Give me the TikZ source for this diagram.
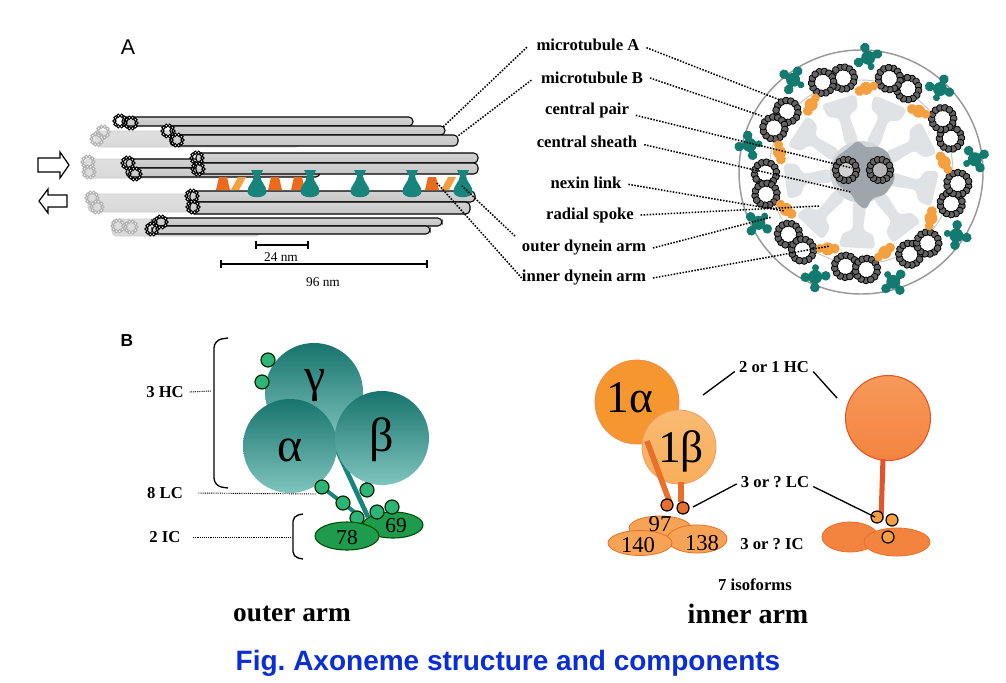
\documentclass[tikz,border=0pt]{standalone}
\usepackage{fontspec}
\setmainfont{Liberation Serif}
\newfontfamily\sansf{Liberation Sans}
\usetikzlibrary{calc}
\definecolor{tealD}{HTML}{17746D}
\definecolor{tealL}{HTML}{80C4BE}
\definecolor{tealA}{HTML}{17857B}
\definecolor{tealX}{HTML}{127A6E}
\definecolor{orgD}{HTML}{EC6A1E}
\definecolor{orgL}{HTML}{F5A040}
\definecolor{orgS}{HTML}{E8702A}
\definecolor{lcg}{HTML}{2DB579}
\definecolor{icg}{HTML}{1E9B4C}
\definecolor{capblue}{HTML}{0A2ED6}
\definecolor{spokec}{HTML}{E0E3E5}
\definecolor{sheathc}{HTML}{9EA6AB}
\definecolor{ia1}{HTML}{F5962F}
\definecolor{ia2}{HTML}{F8AE5A}
\definecolor{iaE}{HTML}{F7A356}
\definecolor{iaRt}{HTML}{F7995A}
\definecolor{iaR}{HTML}{F3843F}
\definecolor{iaRd}{HTML}{E2552A}
\tikzset{
  frod/.style={draw=black,line width=0.8pt,rounded corners=3.2pt,top color=gray!35,middle color=white,bottom color=gray!45},
  brod/.style={draw=gray!40,line width=0.5pt,rounded corners=3.2pt,top color=gray!25,middle color=white,bottom color=gray!30},
  lbead/.style={draw=black,fill=white,line width=0.75pt},
  fbead/.style={draw=gray!60,fill=white,line width=0.75pt},
  xbead/.style={draw=black,fill=gray!65!black!90,line width=0.6pt},
  dotl/.style={line width=1.15pt,dash pattern=on 1.15pt off 1.1pt},
  fdot/.style={line width=0.7pt,dash pattern=on 0.7pt off 0.7pt},
  lbl/.style={font=\bfseries\fontsize{12.5}{14}\selectfont,inner sep=1pt},
  arrowbox/.style={draw=black,line width=0.9pt,fill=white},
  lcc/.style={fill=lcg,draw=black!85!green,line width=0.9pt},
  icc/.style={fill=icg,draw=black!70!green,line width=0.8pt},
  ilc/.style={fill=orgS,draw=black,line width=0.9pt},
}
\newcommand{\lring}[3]{\foreach \k in {0,...,9} \draw[#3] (#1,#2) ++(\k*36:5.5) circle (1.7);}
\newcommand{\xring}[4]{\fill[#3] (#1,#2) circle (#4); \foreach \k in {0,...,13} \draw[xbead] (#1,#2) ++(\k*25.71:#4) circle (3.4);}
\newcommand{\tealcup}[1]{\fill[tealA] (#1-6,170) -- (#1+6,170) -- (#1+3,176) .. controls (#1+4,183) and (#1+10,186) .. (#1+9.5,192) .. controls (#1+8.5,199) and (#1-8.5,199) .. (#1-9.5,192) .. controls (#1-10,186) and (#1-4,183) .. (#1-3,176) -- cycle;}
\newcommand{\orgtrap}[1]{\fill[orgD] (#1-7,190) -- (#1-4,177) -- (#1+4,177) -- (#1+7,190) -- cycle;}
\newcommand{\orgpar}[1]{\fill[orgL] (#1-7,190) -- (#1,177) -- (#1+8,177) -- (#1+1,190) -- cycle;}
\begin{document}
\begin{tikzpicture}[x=0.75pt,y=-0.75pt]
\frenchspacing
\fill[white] (0,0) rectangle (1006,682);
\path[use as bounding box] (0,0) rectangle (1006,682);

% ---------------- Panel A: longitudinal ----------------
\node[font=\sansf\fontsize{16}{18}\selectfont] (labA) at (128,47) {A};

% faded rods
\draw[brod] (95,131) rectangle (300,147);
\draw[brod] (85,159) rectangle (220,178);
\draw[brod] (88,194) rectangle (230,212);
\draw[brod] (112,219) rectangle (260,236);
\lring{97}{139}{fbead}\lring{103}{132}{fbead}
\lring{88}{162}{fbead}\lring{89}{172}{fbead}
\lring{92}{198}{fbead}\lring{97}{207}{fbead}
\lring{118}{226}{fbead}\lring{131}{227}{fbead}

% group 1
\draw[frod] (122,117) rectangle (413,126);
\lring{120}{121}{lbead}\lring{131}{123}{lbead}
\draw[frod] (170,126) rectangle (445,135);
\draw[frod] (170,135) rectangle (458,146);
\lring{168}{131}{lbead}\lring{177}{140}{lbead}
% group 2 (back)
\draw[frod] (126,159) rectangle (320,168);
\draw[frod] (126,168) rectangle (320,177);
\lring{128}{163}{lbead}\lring{135}{174}{lbead}
% group 2 (front)
\draw[frod] (196,153) rectangle (478,163);
\draw[frod] (196,163) rectangle (478,174);
\lring{197}{158}{lbead}\lring{198}{169}{lbead}
% group 3
\draw[frod] (190,191) rectangle (475,202);
\draw[frod] (190,202) rectangle (470,214);
\lring{192}{196}{lbead}\lring{193}{207}{lbead}
% group 4
\draw[frod] (152,218) rectangle (442,226);
\draw[frod] (152,226) rectangle (430,234);
\lring{161}{222}{lbead}\lring{152}{229}{lbead}

% dynein arms
\orgtrap{223}\orgpar{238}\orgtrap{275}\orgtrap{298}\orgtrap{432}\orgpar{448}
\tealcup{257}\tealcup{310}\tealcup{360}\tealcup{412}\tealcup{463}

% sliding arrows
\draw[arrowbox] (38,158) -- (60,158) -- (60,152) -- (69,165) -- (60,178) -- (60,172) -- (38,172) -- cycle;
\draw[arrowbox] (67,195) -- (48,195) -- (48,189) -- (39,201) -- (48,213) -- (48,207) -- (67,207) -- cycle;

% scale bars
\coordinate (s24a) at (256,245); \coordinate (s24b) at (308,245);
\coordinate (s96a) at (221,264); \coordinate (s96b) at (427,264);
\draw[line width=1.1pt] (s24a) -- (s24b);
\draw[line width=1.1pt] ([yshift=3pt]s24a) -- ([yshift=-3pt]s24a);
\draw[line width=1.1pt] ([yshift=3pt]s24b) -- ([yshift=-3pt]s24b);
\draw[line width=1.1pt] (s96a) -- (s96b);
\draw[line width=1.1pt] ([yshift=3pt]s96a) -- ([yshift=-3pt]s96a);
\draw[line width=1.1pt] ([yshift=3pt]s96b) -- ([yshift=-3pt]s96b);
\node[font=\fontsize{10}{12}\selectfont] (t24) at (281,257) {24 nm};
\node[font=\fontsize{10}{12}\selectfont] (t96) at (323,282) {96 nm};

% ---------------- Panel A: cross-section ----------------
\coordinate (xc) at (861,172);
\foreach \t [evaluate=\t as \rr using 90-\t] in {-17,23,63,103,143,183,223,263,303}{
  \begin{scope}[shift={(861,172)},rotate=\rr]
    \fill[spokec,rounded corners=3pt] (62,-16) -- (76,-18) -- (76,18) -- (62,16) -- (58,5) -- (30,7) -- (30,-7) -- (58,-5) -- cycle;
  \end{scope}
}
\fill[sheathc!45] (861,172) circle (31);
\fill[sheathc,rounded corners=3pt] (835,158) -- (850,147) -- (858,140) -- (866,148) -- (878,146) -- (888,152) -- (893,165) -- (895,180) -- (885,195) -- (872,198) -- (866,210) -- (857,204) -- (850,192) -- (838,186) -- (832,172) -- cycle;
\draw[gray!45,line width=0.7pt] (xc) circle (92);
\draw[gray!80,line width=1.1pt] (xc) circle (122);
\xring{846}{170}{gray!35}{10.5}
\xring{880}{170}{gray!55}{10.5}
\foreach \t [evaluate=\t as \rr using 90-\t] in {-17,23,63,103,143,183,223,263,303}{
  \begin{scope}[shift={(861,172)},rotate=\rr]
    \xring{95}{10.5}{white}{11}
    \xring{97}{-10.5}{white}{11}
    \fill[tealX] (108,-38) circle (7) (115,-31) circle (4.8) (116,-45) circle (4.8) (100,-45) circle (4.8) (101,-32) circle (3.5);
    \fill[orgL] (79,-28) circle (6.5) (74,-33) circle (5) (84,-22) circle (4.5);
  \end{scope}
}

% ---------------- labels A ----------------
\node[lbl] (lmtA) at (588,45) {microtubule A};
\node[lbl] (lmtB) at (592,78) {microtubule B};
\node[lbl] (lcp) at (587,110) {central pair};
\node[lbl] (lcs) at (587,142) {central sheath};
\node[lbl] (lnx) at (586,183) {nexin link};
\node[lbl] (lrs) at (590,215) {radial spoke};
\node[lbl] (loda) at (584,248) {outer dynein arm};
\node[lbl] (lida) at (584,278) {inner dynein arm};

\coordinate (eA1) at (443,127); \coordinate (eB1) at (458,136);
\coordinate (eO1) at (462,186); \coordinate (eI1) at (437,183);
\coordinate (eA2) at (780,100); \coordinate (eB2) at (762,116);
\coordinate (eCP) at (852,168); \coordinate (eCS) at (851,192);
\coordinate (eNX) at (785,211); \coordinate (eRS) at (820,206);
\coordinate (eO2) at (772,217); \coordinate (eI2) at (830,246);

\draw[dotl] ([shift={(-6pt,4pt)}]lmtA.south west) -- (eA1);
\draw[dotl] ([shift={(-6pt,4pt)}]lmtB.south west) -- (eB1);
\draw[dotl] ([shift={(-4pt,2pt)}]loda.north west) -- (eO1);
\draw[dotl] ([shift={(1pt,0pt)}]lida.west) -- (eI1);
\draw[dotl] ([shift={(4pt,-2pt)}]lmtA.east) -- (eA2);
\draw[dotl] ([shift={(4pt,0pt)}]lmtB.east) -- (eB2);
\draw[dotl] ([shift={(4pt,-4pt)}]lcp.east) -- (eCP);
\draw[dotl] ([shift={(4pt,-2pt)}]lcs.east) -- (eCS);
\draw[dotl] ([shift={(4pt,-1pt)}]lnx.east) -- (eNX);
\draw[dotl] ([shift={(4pt,0pt)}]lrs.east) -- (eRS);
\draw[dotl] ([shift={(4pt,0pt)}]loda.east) -- (eO2);
\draw[dotl] ([shift={(4pt,0pt)}]lida.east) -- (eI2);

% ---------------- Panel B: outer arm ----------------
\node[font=\sansf\bfseries\fontsize{13}{15}\selectfont] (labB) at (127,341) {B};
\draw[line width=1pt,rounded corners=6pt] (228,338) -- (214,340) -- (214,486) -- (228,488);
\draw[line width=1pt,rounded corners=4pt] (303,514) -- (293,516) -- (293,557) -- (303,559);
\node[lbl] (hc3) at (165,392) {3 HC};
\node[lbl] (lc8) at (165,493) {8 LC};
\node[lbl] (ic2) at (165,537) {2 IC};
\coordinate (bHC) at (211,391); \coordinate (bLC) at (316,494); \coordinate (bIC) at (290,537);
\draw[fdot] ([xshift=3pt]hc3.east) -- (bHC);
\draw[fdot] ([xshift=10pt]lc8.east) -- (bLC);
\draw[fdot] ([xshift=8pt]ic2.east) -- (bIC);

\draw[tealA,line width=3.5pt] (337,450) -- (368,517);
\draw[tealA,line width=3pt] (322,487) -- (357,514);
\draw[tealA,line width=3pt] (367,470) -- (367,490);
\shade[top color=tealD,bottom color=tealL] (314,392) circle (49);
\shade[top color=tealD,bottom color=tealL] (290,446) circle (47);
\shade[top color=tealD,bottom color=tealL] (382,438) circle (47);
\node[font=\fontsize{36}{36}\selectfont] (gam) at (315,386) {γ};
\node[font=\fontsize{36}{36}\selectfont] (alp) at (290,450) {α};
\node[font=\fontsize{36}{36}\selectfont] (bet) at (382,440) {β};
\draw[lcc] (268,360) circle (7);
\draw[lcc] (262,382) circle (7);
\draw[icc] (393,525) ellipse (30 and 13);
\draw[lcc] (322,487) circle (7);
\draw[lcc] (343,503) circle (7);
\draw[lcc] (367,490) circle (7);
\draw[lcc] (357,518) circle (7);
\draw[lcc] (377,512) circle (7);
\draw[lcc] (392,507) circle (7);
\draw[icc] (347,536) ellipse (32 and 14);
\node[font=\fontsize{16}{16}\selectfont] (i69) at (396,526) {69};
\node[font=\fontsize{16}{16}\selectfont] (i78) at (347,538) {78};
\node[font=\bfseries\fontsize{20.5}{22}\selectfont] (oarm) at (292,614) {outer arm};

% ---------------- Panel B: inner arm ----------------
\draw[fill=ia1,draw=orgS!80,line width=0.6pt] (637,402) circle (42);
\draw[top color=ia2!85!white,bottom color=ia2,draw=orgS!70,line width=0.6pt] (679,447) circle (37);
\node[font=\fontsize{34}{34}\selectfont] (t1a) at (630,398) {1α};
\node[font=\fontsize{34}{34}\selectfont] (t1b) at (681,451) {1β};
\draw[orgS,line width=4.2pt] (647,441) -- (670,503);
\draw[orgS,line width=4pt] (681,482) -- (681,502);
\draw[fill=iaE,draw=orgS,line width=0.6pt] (660,528) ellipse (31 and 12);
\draw[fill=iaE,draw=orgS,line width=0.6pt] (697,539) ellipse (30 and 14);
\draw[fill=iaE,draw=orgS,line width=0.6pt] (640,543) ellipse (32 and 12.5);
\draw[ilc] (667,505) circle (6);
\draw[ilc] (683,508) circle (6);
\node[font=\fontsize{17}{17}\selectfont] (t97) at (660,524) {97};
\node[font=\fontsize{17}{17}\selectfont] (t140) at (638,545) {140};
\node[font=\fontsize{17}{17}\selectfont] (t138) at (702,543) {138};

\draw[top color=iaRt,bottom color=iaR,draw=iaRd,line width=0.8pt] (888,418) circle (42.5);
\draw[iaRd,line width=3.8pt] (883,459) -- (881,520);
\draw[fill=iaR,draw=orgS,line width=0.6pt] (850,537) ellipse (28 and 15);
\draw[fill=iaR,draw=orgS,line width=0.6pt] (897,542) ellipse (33 and 14);
\draw[fill=orgL,draw=black,line width=0.9pt] (877,517) circle (6);
\draw[fill=orgL,draw=black,line width=0.9pt] (892,520) circle (6);
\draw[fill=orgL,draw=black,line width=0.9pt] (888,537) circle (6);

\node[lbl] (hcI) at (774,367) {2 or 1 HC};
\node[lbl] (lcI) at (775,482) {3 or ? LC};
\node[lbl] (icI) at (772,544) {3 or ? IC};
\node[lbl] (iso) at (755,585) {7 isoforms};
\coordinate (hcL) at (703,395); \coordinate (hcR) at (837,398);
\coordinate (lcL) at (693,507); \coordinate (lcR) at (875,517);
\draw[line width=1pt] ([shift={(-2pt,2pt)}]hcI.south west) -- (hcL);
\draw[line width=1pt] ([shift={(2pt,2pt)}]hcI.south east) -- (hcR);
\draw[line width=1pt] ([shift={(-2pt,4pt)}]lcI.south west) -- (lcL);
\draw[line width=1pt] ([shift={(2pt,2pt)}]lcI.south east) -- (lcR);
\node[font=\bfseries\fontsize{21}{22}\selectfont] (iarm) at (748,614) {inner arm};

% caption
\node[font=\sansf\bfseries\fontsize{21}{24}\selectfont,text=capblue] (cap) at (508,663) {Fig. Axoneme structure and components};
\end{tikzpicture}
\end{document}
